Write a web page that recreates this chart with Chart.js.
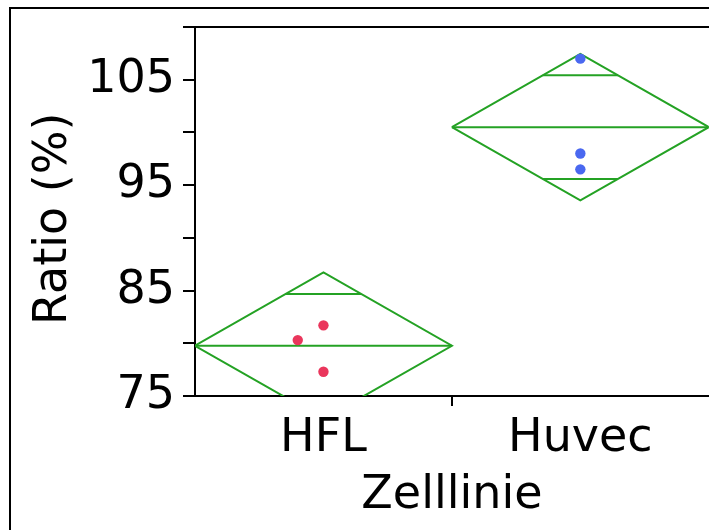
<!DOCTYPE html>
<html>
<head>
<meta charset="utf-8">
<script src="https://cdn.jsdelivr.net/npm/chart.js@4"></script>
<style>
  html, body { margin: 0; padding: 0; background: #ffffff; overflow: hidden; }
  #wrap { position: relative; width: 709px; height: 530px; overflow: hidden; }
  #c { position: absolute; left: 0; top: 0; }
  /* page frame: only its left and top edges fall inside the view */
  #frame { position: absolute; left: 9px; top: 7px; width: 720px; height: 540px;
           border-left: 2px solid #000; border-top: 2px solid #000; }
</style>
</head>
<body>
<div id="wrap">
  <!-- the plot continues slightly past the right edge of the view -->
  <canvas id="c" width="714" height="530"></canvas>
  <div id="frame"></div>
</div>
<script>
// Cell lines and measured ratios (%)
const categories = ['HFL', 'Huvec'];
const hflValues = [81.7, 80.3, 77.3];
const huvecValues = [107.0, 98.0, 96.5];
// small horizontal jitter of the points (category units)
const hflJitter = [0, -0.1, 0];
const huvecJitter = [0, 0, 0];
// half-width of the 95% confidence interval of each group mean
const ciHalfWidth = [6.95, 6.95];

// y axis
const yMin = 75, yMax = 110, yStep = 5;
const yLabelled = [75, 85, 95, 105];

const GREEN = 'rgb(36,162,36)';
const RED = 'rgb(234,54,92)';
const BLUE = 'rgb(74,104,240)';
const FONT = 'DejaVu Sans';
const FSIZE = 46;

const groups = [
  { values: hflValues, jitter: hflJitter, color: RED },
  { values: huvecValues, jitter: huvecJitter, color: BLUE }
];

const mean = a => a.reduce((s, v) => s + v, 0) / a.length;

const datasets = [];
groups.forEach((g, i) => {
  const m = mean(g.values);
  const ci = ciHalfWidth[i];
  const ov = ci * Math.SQRT1_2;          // overlap marks
  const hw = 0.5 * (1 - Math.SQRT1_2);   // half-width of diamond at the overlap marks
  const line = data => ({
    type: 'line', data, borderColor: GREEN, borderWidth: 2,
    pointRadius: 0, fill: false, tension: 0, showLine: true, order: 2
  });
  // means diamond
  datasets.push(line([
    { x: i - 0.5, y: m }, { x: i, y: m + ci }, { x: i + 0.5, y: m },
    { x: i, y: m - ci }, { x: i - 0.5, y: m }
  ]));
  // mean line
  datasets.push(line([{ x: i - 0.5, y: m }, { x: i + 0.5, y: m }]));
  // overlap marks
  datasets.push(line([{ x: i - hw, y: m + ov }, { x: i + hw, y: m + ov }]));
  datasets.push(line([{ x: i - hw, y: m - ov }, { x: i + hw, y: m - ov }]));
  // observations
  datasets.push({
    type: 'scatter',
    data: g.values.map((v, k) => ({ x: i + g.jitter[k], y: v })),
    backgroundColor: g.color, borderColor: g.color, borderWidth: 0,
    pointRadius: 5.2, order: 1
  });
});

new Chart(document.getElementById('c'), {
  type: 'scatter',
  data: { datasets },
  options: {
    responsive: false,
    animation: false,
    devicePixelRatio: 1,
    layout: { padding: { left: 0, right: 0, top: 27, bottom: 0 } },
    plugins: { legend: { display: false }, tooltip: { enabled: false } },
    scales: {
      x: {
        type: 'linear', position: 'bottom',
        min: -0.5, max: 1.5,
        afterBuildTicks: s => { s.ticks = [0, 0.5, 1].map(v => ({ value: v })); },
        afterFit: s => { s.height = 134; s.paddingLeft = 0; s.paddingRight = 0; },
        ticks: {
          autoSkip: false, maxRotation: 0, padding: 5, color: '#000',
          font: { family: FONT, size: FSIZE },
          callback: v => Number.isInteger(v) ? categories[v] : ''
        },
        grid: {
          drawOnChartArea: false, drawTicks: true, tickLength: 10, lineWidth: 2,
          tickColor: c => (c.tick && c.tick.value === 0.5) ? '#000' : 'rgba(0,0,0,0)'
        },
        border: { display: true, color: '#000', width: 2 },
        title: {
          display: true, text: 'Zelllinie', color: '#000',
          font: { family: FONT, size: FSIZE }, padding: { top: 0, bottom: 6 }
        }
      },
      xTop: {
        type: 'linear', position: 'top', min: -0.5, max: 1.5,
        afterFit: s => { s.height = 0; s.paddingLeft = 0; s.paddingRight = 0; },
        ticks: { display: false },
        grid: { drawOnChartArea: false, drawTicks: false },
        border: { display: true, color: '#000', width: 2 }
      },
      y: {
        type: 'linear', position: 'left',
        min: yMin, max: yMax,
        afterFit: s => { s.width = 195; s.paddingTop = 0; s.paddingBottom = 0; },
        ticks: {
          stepSize: yStep, autoSkip: false, padding: 8, color: '#000',
          font: { family: FONT, size: FSIZE },
          callback: v => yLabelled.includes(v) ? String(v) : ''
        },
        grid: { drawOnChartArea: false, drawTicks: true, tickLength: 12, lineWidth: 2, tickColor: '#000' },
        border: { display: true, color: '#000', width: 2 },
        title: {
          display: true, text: 'Ratio (%) ', color: '#000',
          font: { family: FONT, size: FSIZE }, padding: { top: 26, bottom: 0 }
        }
      }
    }
  }
});
</script>
</body>
</html>
